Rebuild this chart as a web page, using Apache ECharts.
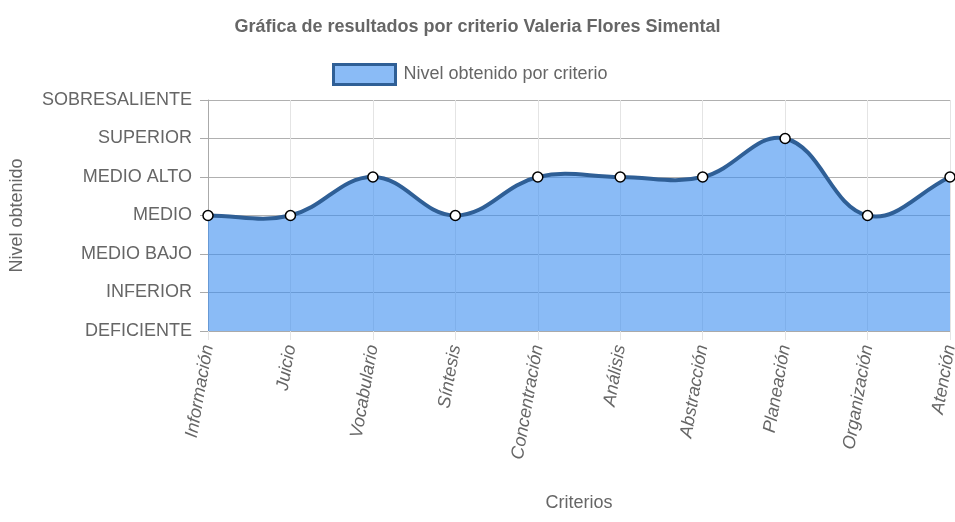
<!DOCTYPE html>
<html>
<head>
<meta charset="utf-8">
<script src="https://cdn.jsdelivr.net/npm/echarts@6/dist/echarts.min.js"></script>
<style>
html,body{margin:0;padding:0;background:#fff;}
#chart{width:955px;height:522px;}
</style>
</head>
<body>
<div id="chart"></div>
<script>
const categories = ['Información','Juicio','Vocabulario','Síntesis','Concentración','Análisis','Abstracción','Planeación','Organización','Atención'];
const values = [3, 3, 4, 3, 4, 4, 4, 5, 3, 4];
const levelLabels = ['DEFICIENTE','INFERIOR','MEDIO BAJO','MEDIO','MEDIO ALTO','SUPERIOR','SOBRESALIENTE'];
const seriesName = 'Nivel obtenido por criterio';
const titleText = 'Gráfica de resultados por criterio Valeria Flores Simental';

const FONT = 'Arial, "Liberation Sans", sans-serif';
const AREA = 'rgba(60,142,240,0.6)';
const LINE = '#2f5f96';
const TENSION = 0.4;

function splineCurve(prev, cur, next, t) {
  const d01 = Math.hypot(cur[0] - prev[0], cur[1] - prev[1]);
  const d12 = Math.hypot(next[0] - cur[0], next[1] - cur[1]);
  let s01 = d01 / (d01 + d12), s12 = d12 / (d01 + d12);
  if (isNaN(s01)) s01 = 0;
  if (isNaN(s12)) s12 = 0;
  const fa = t * s01, fb = t * s12;
  return {
    p: [cur[0] - fa * (next[0] - prev[0]), cur[1] - fa * (next[1] - prev[1])],
    n: [cur[0] + fb * (next[0] - prev[0]), cur[1] + fb * (next[1] - prev[1])]
  };
}

function renderCurve(params, api) {
  if (params.dataIndex !== 0) return null;
  const pts = values.map((v, i) => api.coord([i, v]));
  const base = api.coord([0, 0])[1];
  const n = pts.length;
  const cps = pts.map((p, i) => splineCurve(pts[Math.max(i - 1, 0)], p, pts[Math.min(i + 1, n - 1)], TENSION));
  let d = 'M' + pts[0][0] + ' ' + pts[0][1];
  for (let i = 0; i < n - 1; i++) {
    const a = cps[i].n, b = cps[i + 1].p, q = pts[i + 1];
    d += ' C' + a[0] + ' ' + a[1] + ' ' + b[0] + ' ' + b[1] + ' ' + q[0] + ' ' + q[1];
  }
  const area = d + ' L' + pts[n - 1][0] + ' ' + base + ' L' + pts[0][0] + ' ' + base + ' Z';
  return {
    type: 'group',
    children: [
      {type: 'path', shape: {pathData: area}, style: {fill: AREA, stroke: null}},
      {type: 'path', shape: {pathData: d}, style: {fill: null, stroke: LINE, lineWidth: 4, lineJoin: 'round', lineCap: 'round'}}
    ]
  };
}

const chart = echarts.init(document.getElementById('chart'), null, {renderer:'canvas'});
chart.setOption({
  animation: false,
  textStyle: {fontFamily: FONT},
  title: {
    text: titleText, left: 'center', top: 13,
    textStyle: {fontFamily: FONT, fontSize: 18, fontWeight: 'bold', color: '#666'}
  },
  legend: {
    data: [seriesName], top: 58, left: 327,
    icon: 'rect', itemWidth: 62, itemHeight: 20, itemGap: 8,
    textStyle: {fontFamily: FONT, fontSize: 18, color: '#666', padding: [0, 0, 0, 3]},
    itemStyle: {color: AREA, borderColor: LINE, borderWidth: 3, opacity: 1}
  },
  grid: {left: 208, right: 5, top: 100, bottom: 191, containLabel: false, outerBoundsMode: 'none'},
  xAxis: {
    type: 'category', data: categories, boundaryGap: false,
    name: 'Criterios', nameLocation: 'middle', nameGap: 163,
    nameTextStyle: {fontFamily: FONT, fontSize: 18, color: '#666'},
    axisLine: {show: true, lineStyle: {color: '#aaa', width: 1}},
    axisTick: {show: true, length: 9, lineStyle: {color: '#e4e4e4'}},
    axisLabel: {rotate: 80, margin: 14, fontSize: 18, fontStyle: 'italic', color: '#666', fontFamily: FONT},
    splitLine: {show: true, lineStyle: {color: '#e4e4e4', width: 1}}
  },
  yAxis: {
    type: 'value', min: 0, max: 6, interval: 1,
    name: 'Nivel obtenido', nameLocation: 'middle', nameGap: 182,
    nameTextStyle: {fontFamily: FONT, fontSize: 18, color: '#666'},
    axisLine: {show: true, lineStyle: {color: '#aaa', width: 1}},
    axisTick: {show: true, length: 8, lineStyle: {color: '#aaa'}},
    axisLabel: {margin: 16, fontSize: 18, color: '#666', fontFamily: FONT,
      formatter: function (v) { return levelLabels[v] || ''; }},
    splitLine: {show: true, lineStyle: {color: '#b0b0b0', width: 1}}
  },
  series: [
    {
      name: seriesName, type: 'custom', coordinateSystem: 'cartesian2d',
      data: values.map((v, i) => [i, v]), renderItem: renderCurve,
      encode: {x: 0, y: 1}, clip: false, z: 2,
      itemStyle: {color: AREA, borderColor: LINE, borderWidth: 3}
    },
    {
      name: seriesName, type: 'line', data: values,
      symbol: 'circle', symbolSize: 10, showSymbol: true,
      lineStyle: {width: 0, opacity: 0},
      itemStyle: {color: '#fff', borderColor: '#000', borderWidth: 1.5},
      z: 4
    }
  ]
});
</script>
</body>
</html>
